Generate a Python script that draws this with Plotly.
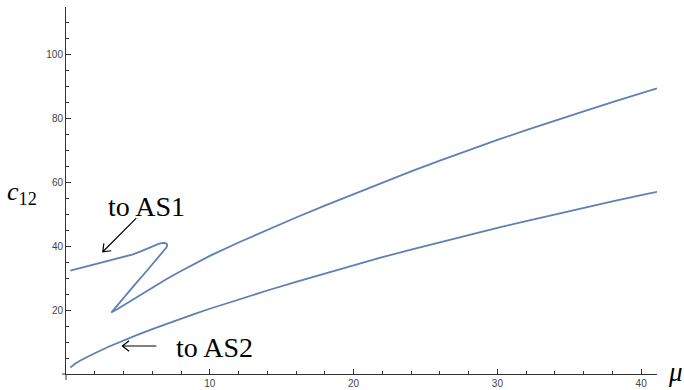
import math
import plotly.graph_objects as go

# ---- data ----
upper_mu = [0.3, 1.0, 2.0, 3.0, 4.0, 4.66, 5.2, 5.7, 6.1, 6.4, 6.64, 6.85, 7.0, 7.04, 6.98,
            6.8, 6.5, 6.0, 5.4, 4.8, 4.2, 3.6, 3.15,
            3.5, 4.0, 5.0, 6.0, 7.0, 8.0, 9.0, 10.0, 12.0, 14.0, 16.0, 18.0, 20.0, 22.0,
            24.0, 26.0, 28.0, 30.0, 32.0, 34.0, 36.0, 38.0, 40.0, 41.1]
upper_c = [32.3, 33.1, 34.3, 35.4, 36.6, 37.4, 38.3, 39.3, 40.1, 40.6, 40.9, 41.0, 40.7, 40.2, 39.5,
           38.5, 37.0, 34.3, 31.1, 28.0, 24.8, 21.6, 19.2,
           20.1, 21.5, 24.3, 27.0, 29.7, 32.2, 34.6, 36.9, 41.1, 45.1, 48.9, 52.6, 56.2, 59.8,
           63.3, 66.7, 70.0, 73.15, 76.2, 79.2, 82.1, 84.95, 87.75, 89.3]

lower_mu = [0.3, 0.6, 1.0, 1.5, 2.0, 3.0, 4.0, 5.0, 6.0, 7.0, 8.0, 9.0, 10.0, 12.0, 14.0, 16.0,
            18.0, 20.0, 22.0, 24.0, 26.0, 28.0, 30.0, 32.0, 34.0, 36.0, 38.0, 40.0, 41.1]
lower_c = [2.0, 3.1, 4.2, 5.4, 6.5, 8.6, 10.5, 12.3, 14.0, 15.7, 17.3, 18.9, 20.4, 23.3, 26.1, 28.8,
           31.4, 34.0, 36.5, 38.9, 41.2, 43.45, 45.65, 47.8, 49.9, 51.95, 53.95, 55.9, 56.95]

x_major = [10, 20, 30, 40]
x_minor = [v for v in range(2, 41, 2) if v % 10 != 0]
y_major = [20, 40, 60, 80, 100]
y_minor = [v for v in range(5, 115, 5) if v % 20 != 0]

X_RANGE = [0, 41.1]
Y_RANGE = [0, 114.7]
W, H = 684, 390
ML, MR, MT, MB = 66, 27, 7, 16
PW, PH = W - ML - MR, H - MT - MB

LINE = "#5E81B5"
AX = "#333333"

fig = go.Figure()
fig.add_trace(go.Scatter(x=upper_mu, y=upper_c, mode="lines",
                         line=dict(color=LINE, width=1.8), showlegend=False))
fig.add_trace(go.Scatter(x=lower_mu, y=lower_c, mode="lines",
                         line=dict(color=LINE, width=1.8), showlegend=False))

tickfont = dict(family="Liberation Sans, Arial, sans-serif", size=10, color="#444444")
fig.update_xaxes(range=X_RANGE, showgrid=False, zeroline=False, showline=True, automargin=False,
                 linecolor=AX, linewidth=1, ticks="inside", ticklen=5, tickcolor=AX,
                 tickmode="array", tickvals=x_major, ticktext=[str(v) for v in x_major],
                 tickfont=tickfont,
                 minor=dict(tickmode="array", tickvals=x_minor, ticks="inside",
                            ticklen=3, tickcolor=AX))
fig.update_yaxes(range=Y_RANGE, showgrid=False, zeroline=False, showline=True, automargin=False,
                 linecolor=AX, linewidth=1, ticks="inside", ticklen=5, tickcolor=AX,
                 tickmode="array", tickvals=y_major, ticktext=[str(v) for v in y_major],
                 tickfont=tickfont,
                 minor=dict(tickmode="array", tickvals=y_minor, ticks="inside",
                            ticklen=3, tickcolor=AX))

serif = "Liberation Serif, Times New Roman, serif"
ann = []
ann.append(dict(xref="paper", yref="paper", x=-0.0745, y=0.493, xanchor="center", yanchor="middle",
                showarrow=False, text="<i>c</i><sub>12</sub>",
                font=dict(family=serif, size=26, color="black")))
ann.append(dict(xref="paper", yref="paper", x=1.031, y=0.006, xanchor="center", yanchor="middle",
                showarrow=False, text="<i>μ</i>", font=dict(family=serif, size=27, color="black")))
ann.append(dict(x=5.57, y=52.3, xref="x", yref="y", xanchor="center", yanchor="middle",
                showarrow=False, text="to AS1", font=dict(family=serif, size=28, color="black")))
ann.append(dict(x=10.33, y=8.3, xref="x", yref="y", xanchor="center", yanchor="middle",
                showarrow=False, text="to AS2", font=dict(family=serif, size=28, color="black")))

sx = PW / (X_RANGE[1] - X_RANGE[0])
sy = PH / (Y_RANGE[1] - Y_RANGE[0])


def arrow_path(tail, head, barb=8.5, ang=38):
    dx = (head[0] - tail[0]) * sx
    dy = (head[1] - tail[1]) * sy
    n = math.hypot(dx, dy)
    ux, uy = dx / n, dy / n
    pts = []
    for s in (1, -1):
        a = math.radians(ang) * s
        bx = -(ux * math.cos(a) - uy * math.sin(a)) * barb
        by = -(ux * math.sin(a) + uy * math.cos(a)) * barb
        pts.append((head[0] + bx / sx, head[1] + by / sy))
    p = "M{},{} L{},{} ".format(tail[0], tail[1], head[0], head[1])
    p += "M{},{} L{},{} L{},{}".format(pts[0][0], pts[0][1], head[0], head[1], pts[1][0], pts[1][1])
    return p


shapes = [
    dict(type="path", xref="x", yref="y", path=arrow_path((4.89, 48.7), (2.56, 38.2)),
         line=dict(color="black", width=1.2)),
    dict(type="path", xref="x", yref="y", path=arrow_path((6.28, 8.75), (3.92, 8.75)),
         line=dict(color="black", width=1.2)),
    dict(type="line", xref="paper", yref="paper", x0=0, x1=0, y0=0, y1=-6 / PH,
         line=dict(color=AX, width=1)),
    dict(type="line", xref="paper", yref="paper", x0=-4 / PW, x1=0, y0=0, y1=0,
         line=dict(color=AX, width=1)),
]

fig.update_layout(width=W, height=H, margin=dict(l=ML, r=MR, t=MT, b=MB),
                  paper_bgcolor="white", plot_bgcolor="white",
                  annotations=ann, shapes=shapes)

fig.write_html("out.html", config={"displayModeBar": False},
               post_script="document.body.style.margin='0';document.body.style.padding='0';")
